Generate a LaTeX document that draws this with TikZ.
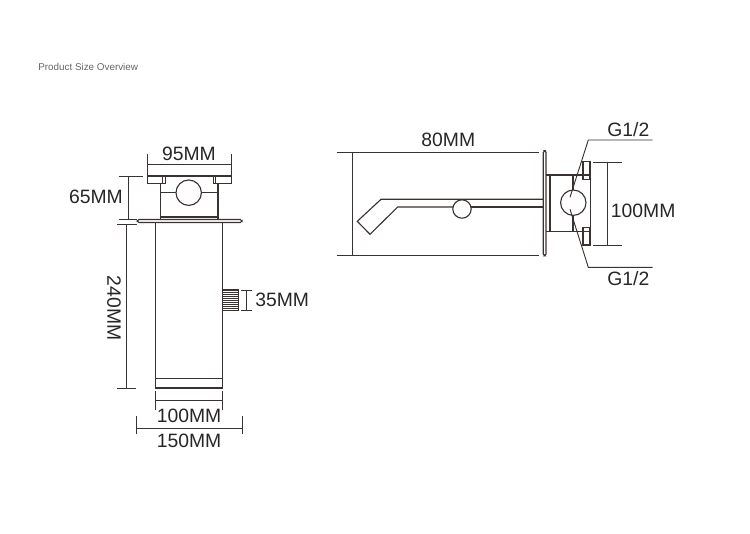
\documentclass[tikz,border=0pt]{standalone}
\usepackage{fontspec}
\setmainfont{Liberation Sans}
\definecolor{ink}{HTML}{3A3230}
\tikzset{
  part/.style={draw=ink,line width=0.85pt},
  dimline/.style={draw=ink,line width=0.7pt},
  dimtext/.style={text=black!85,font=\fontsize{14.5}{16}\selectfont,inner sep=0pt},
}
\begin{document}
\begin{tikzpicture}[x=0.75pt,y=-0.75pt]
\useasboundingbox (0,0) rectangle (750,534);
\node[text=black!60,font=\fontsize{7.4}{8}\selectfont,inner sep=0pt,anchor=west] (title) at (38,66.5) {Product Size Overview};
% --- front view ---
\draw[part] (147.3,176) rectangle (165.3,183.3);
\draw[part] (213.3,176) rectangle (231.3,183.3);
\draw[part] (162.7,176) -- (162.7,183.3);
\draw[part] (215.7,176) -- (215.7,183.3);
\draw[part] (160.7,183.3) -- (160.7,219.5);
\draw[part] (218,183.3) -- (218,219.5);
\draw[part] (165.3,176) -- (213.3,176);
\draw[part] (160.7,217) -- (218,217);
\draw[part] (188.7,192.7) circle[radius=12.7];
\draw[part] (160.7,192.7) -- (176,192.7);
\draw[part] (201.4,192.7) -- (218,192.7);
\draw[part,rounded corners=1.2pt] (137.3,219.5) rectangle (242,222.5);
\draw[part] (155.7,222.5) -- (155.7,388) -- (222.7,388) -- (222.7,222.5);
\draw[part] (155.7,378.3) -- (222.7,378.3);
% knob
\draw[part,fill=white] (222.7,290) rectangle (238.7,310.7);
\foreach \y in {292,294,...,310}{\draw[draw=ink,line width=0.6pt] (222.7,\y) -- (238.7,\y);}
% --- front dimensions ---
\draw[dimline] (147.3,154) -- (147.3,176);
\draw[dimline] (231.3,154) -- (231.3,176);
\draw[dimline] (147.3,164.7) -- (231.3,164.7);
\node[dimtext] (d95) at (189,154) {95MM};
\draw[dimline] (118.7,176) -- (143.3,176);
\draw[dimline] (128.3,176) -- (128.3,219.5);
\draw[dimline] (118.7,219.5) -- (137,219.5);
\node[dimtext] (d65) at (96,197.3) {65MM};
\draw[dimline] (117.3,224) -- (136.7,224);
\draw[dimline] (126.7,224) -- (126.7,388);
\draw[dimline] (117.3,388) -- (136,388);
\node[dimtext,rotate=-90] (d240) at (114,308) {240MM};
\draw[dimline] (241,290.7) -- (252.3,290.7);
\draw[dimline] (241,310) -- (252.3,310);
\draw[dimline] (246.7,290.7) -- (246.7,310);
\node[dimtext,anchor=west] (d35) at (255,300) {35MM};
\draw[dimline] (155.7,391) -- (155.7,410);
\draw[dimline] (222.7,391) -- (222.7,410);
\draw[dimline] (155.7,400.7) -- (222.7,400.7);
\node[dimtext] (d100a) at (189,416) {100MM};
\draw[dimline] (136.7,416) -- (136.7,434);
\draw[dimline] (242,416) -- (242,434);
\draw[dimline] (136.7,428) -- (242,428);
\node[dimtext] (d150) at (189,441) {150MM};
% --- side view ---
\draw[part] (543.3,199.3) -- (381,199.3) -- (357.3,221.3) -- (370,234.3) -- (397.7,207) -- (453,207);
\draw[part] (471,207) -- (543.3,207);
\draw[part] (462,209) circle[radius=9.2];
\draw[part,rounded corners=1.2pt] (543.3,150.7) rectangle (546,255.7);
\draw[part] (546,175) -- (590.7,175);
\draw[part] (546,231.7) -- (590.7,231.7);
\draw[part] (550,175) -- (550,231.7);
\draw[part] (590.7,175) -- (590.7,231.7);
\draw[part] (573,175) -- (573,190);
\draw[part] (573,215.4) -- (573,231.7);
\draw[part] (573.3,202.7) circle[radius=12.7];
\draw[part] (583,161.7) rectangle (590,179.3);
\draw[part] (583,227.3) rectangle (590,245);
% --- side dimensions ---
\draw[dimline] (336.7,152.3) -- (539.3,152.3);
\draw[dimline] (336.7,255.7) -- (539.3,255.7);
\draw[dimline] (352,152.3) -- (352,255.7);
\node[dimtext] (d80) at (448.3,140) {80MM};
\draw[dimline] (570,197.3) -- (588.3,140) -- (652.7,140);
\draw[dimline] (570,209.3) -- (588.3,267.3) -- (652.7,267.3);
\node[dimtext] (g1) at (628.3,129.3) {G1/2};
\node[dimtext] (g2) at (628.3,278.3) {G1/2};
\draw[dimline] (592.7,162) -- (621.7,162);
\draw[dimline] (592.7,245) -- (621.7,245);
\draw[dimline] (607,162) -- (607,245);
\node[dimtext,anchor=west] (d100b) at (610.7,211) {100MM};
\end{tikzpicture}
\end{document}
